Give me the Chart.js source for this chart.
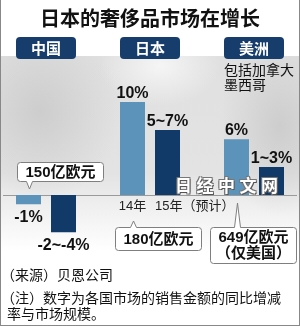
<!DOCTYPE html>
<html><head><meta charset="utf-8">
<script src="https://cdn.jsdelivr.net/npm/chart.js@4.4.1/dist/chart.umd.min.js"></script>
<style>
html,body{margin:0;padding:0;width:300px;height:326px;overflow:hidden;background:#fff;}
#wrap{position:relative;width:300px;height:326px;overflow:hidden;font-family:"Noto Sans CJK SC",sans-serif;color:#111;}
#map{position:absolute;left:0;top:56px;width:300px;height:195px;
 background:
  radial-gradient(ellipse 80px 90px at 40px 55px, rgba(205,205,205,1), rgba(205,205,205,0)),
  radial-gradient(ellipse 60px 90px at 280px 70px, rgba(205,205,205,1), rgba(205,205,205,0)),
  radial-gradient(ellipse 60px 40px at 160px 10px, rgba(245,245,245,1), rgba(245,245,245,0)),
  linear-gradient(to bottom, #e0e0e0 0%, #e3e3e3 60%, rgba(255,255,255,1) 100%);}
#c{position:absolute;left:-6px;top:0;}
#title{position:absolute;left:0;top:8px;width:300px;text-align:center;font-size:20px;line-height:20px;font-weight:bold;}
.note{position:absolute;font-size:14px;line-height:16px;white-space:nowrap;}
#wm{position:absolute;left:175px;top:176px;font-size:17px;line-height:17px;font-weight:bold;letter-spacing:4.5px;color:#fff;
 text-shadow:1px 1px 0 #555,-1px -1px 0 #777,1px -1px 0 #777,-1px 1px 0 #777;z-index:3;}
#frame{position:absolute;left:0;top:0;width:298px;height:325px;border:1px solid #888;border-top:none;z-index:4;}
</style></head>
<body><div id="wrap">
<div id="map"></div>
<canvas id="c" width="312" height="326"></canvas>
<div id="title">日本的奢侈品市场在增长</div>
<div id="wm">日经中文网</div>
<div class="note" style="left:1px;top:266px;">（来源）贝恩公司</div>
<div class="note" style="left:1px;top:289px;">（注）数字为各国市场的销售金额的同比增减</div>
<div class="note" style="left:7px;top:305px;">率与市场规模。</div>
<div id="frame"></div>
</div>
<script>
// ---- data ----
const categories = ["中国", "日本", "美洲"];
const seriesNames = ["14年", "15年"];
const growth2014 = [-1, 10, 6];
const growth2015 = [-4, 7, 3];           // bar drawn to the larger end of the forecast range
const labels2014 = ["-1%", "10%", "6%"];
const labels2015 = ["-2~-4%", "5~7%", "1~3%"];
const forecastNote = "（预计）";
const marketSize = ["150亿欧元", "180亿欧元", "649亿欧元"];
const marketSizeNote = ["", "", "（仅美国）"];
const regionNotes = [[], [], ["包括加拿大", "墨西哥"]];

// ---- layout (not data) ----
const colors = ["#5b93bb", "#123a69"];
const headerColor = "#173d6c";
const calloutLayout = [
  {dx: -11.5, tipDy: -6, boxDy: -33, w: 86, h: 19},
  {dx: -17.5, tipDy: 26, boxDy: 32, w: 86, h: 23},
  {dx: -26.5, tipDy: 8, boxDy: 32, w: 86, h: 36}
];
const LAT = '"Liberation Sans","Noto Sans CJK SC",sans-serif';
const CJK = '"Noto Sans CJK SC",sans-serif';

function roundRect(ctx, l, t, w, h, r) {
  ctx.beginPath();
  ctx.moveTo(l + r, t);
  ctx.lineTo(l + w - r, t); ctx.arcTo(l + w, t, l + w, t + r, r);
  ctx.lineTo(l + w, t + h - r); ctx.arcTo(l + w, t + h, l + w - r, t + h, r);
  ctx.lineTo(l + r, t + h); ctx.arcTo(l, t + h, l, t + h - r, r);
  ctx.lineTo(l, t + r); ctx.arcTo(l, t, l + r, t, r);
  ctx.closePath();
}
function callout(ctx, tipX, tipY, left, top, w, h) {
  const r = 3, bottom = top + h, below = tipY > bottom, hw = 3;
  ctx.beginPath();
  ctx.moveTo(left + r, top);
  if (!below) { ctx.lineTo(tipX - hw, top); ctx.lineTo(tipX, tipY); ctx.lineTo(tipX + hw, top); }
  ctx.lineTo(left + w - r, top); ctx.arcTo(left + w, top, left + w, top + r, r);
  ctx.lineTo(left + w, bottom - r); ctx.arcTo(left + w, bottom, left + w - r, bottom, r);
  if (below) { ctx.lineTo(tipX + hw, bottom); ctx.lineTo(tipX, tipY); ctx.lineTo(tipX - hw, bottom); }
  ctx.lineTo(left + r, bottom); ctx.arcTo(left, bottom, left, bottom - r, r);
  ctx.lineTo(left, top + r); ctx.arcTo(left, top, left + r, top, r);
  ctx.closePath();
  ctx.fillStyle = "#fff"; ctx.fill();
  ctx.strokeStyle = "#7f7f7f"; ctx.lineWidth = 1; ctx.stroke();
}

const annot = {
  id: "annot",
  beforeDatasetsDraw(chart) {
    const {ctx, scales: {x, y}} = chart;
    const z = Math.round(y.getPixelForValue(0)) + 0.5;
    ctx.save();
    ctx.strokeStyle = "#9a9a9a"; ctx.lineWidth = 1;
    ctx.beginPath(); ctx.moveTo(9, z); ctx.lineTo(303, z); ctx.stroke();
    // region headers
    categories.forEach((c, i) => {
      const cx = x.getPixelForValue(i);
      ctx.fillStyle = headerColor;
      roundRect(ctx, cx - 30, 37, 60, 22, 4); ctx.fill();
      ctx.fillStyle = "#fff"; ctx.font = "bold 15px " + CJK;
      ctx.textAlign = "center"; ctx.textBaseline = "middle";
      ctx.fillText(c, cx, 48.5);
      ctx.fillStyle = "#111"; ctx.font = "14px " + CJK; ctx.textAlign = "left";
      regionNotes[i].forEach((t, k) => ctx.fillText(t, cx - 30, 69.5 + k * 15));
    });
    ctx.restore();
  },
  afterDatasetsDraw(chart) {
    const {ctx, scales: {y}} = chart;
    const m = [chart.getDatasetMeta(0).data, chart.getDatasetMeta(1).data];
    const lbl = [labels2014, labels2015];
    const zero = y.getPixelForValue(0);
    ctx.save();
    // value labels
    ctx.fillStyle = "#111"; ctx.font = "bold 16px " + LAT; ctx.textAlign = "center";
    ctx.textBaseline = "alphabetic";
    m.forEach((bars, s) => bars.forEach((b, i) => {
      const v = chart.data.datasets[s].data[i];
      if (v >= 0) ctx.fillText(lbl[s][i], b.x, b.y - 4);
      else ctx.fillText(lbl[s][i], b.x, b.y + 18);
    }));
    // year labels under 日本
    const j = 1;
    ctx.font = "13px " + LAT; ctx.fillStyle = "#222";
    ctx.textAlign = "center";
    ctx.fillText(seriesNames[0], m[0][j].x, zero + 15);
    ctx.textAlign = "left";
    ctx.fillText(seriesNames[1] + forecastNote, m[1][j].x - m[1][j].width / 2, zero + 15);
    // market size callouts
    marketSize.forEach((t, i) => {
      const L = calloutLayout[i], b = m[0][i];
      const tipX = Math.round(b.x) + 0.5;
      const left = Math.round(b.x + L.dx) + 0.5, top = Math.round(zero + L.boxDy) + 0.5;
      callout(ctx, tipX, zero + L.tipDy, left, top, L.w, L.h);
      ctx.fillStyle = "#111"; ctx.font = "bold 15px " + LAT;
      ctx.textAlign = "center"; ctx.textBaseline = "middle";
      const cx = left + L.w / 2;
      if (marketSizeNote[i]) {
        ctx.fillText(t, cx, top + 10.5);
        ctx.fillText(marketSizeNote[i], cx, top + 26.5);
      } else ctx.fillText(t, cx, top + L.h / 2 + 1);
    });
    ctx.restore();
  }
};

new Chart(document.getElementById("c"), {
  type: "bar",
  data: {
    labels: categories,
    datasets: [
      {label: seriesNames[0], data: growth2014, backgroundColor: colors[0], borderWidth: 0},
      {label: seriesNames[1], data: growth2015, backgroundColor: colors[1], borderWidth: 0}
    ]
  },
  options: {
    responsive: false, animation: false, devicePixelRatio: 1,
    layout: {padding: {top: 83.4, bottom: 84.5, left: 0, right: 0}},
    datasets: {bar: {barPercentage: 25 / 35, categoryPercentage: 70 / 104}},
    scales: {
      x: {display: false},
      y: {display: false, min: -5, max: 12}
    },
    plugins: {legend: {display: false}, tooltip: {enabled: false}, title: {display: false}}
  },
  plugins: [annot]
});
</script>
</body></html>
